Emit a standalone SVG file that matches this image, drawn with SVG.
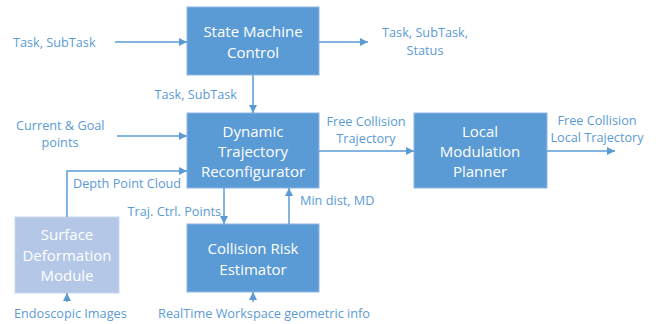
<svg xmlns="http://www.w3.org/2000/svg" width="656" height="324" viewBox="0 0 656 324">
<defs>
<marker id="ah" viewBox="0 0 10 10" refX="10" refY="5" markerWidth="8" markerHeight="8" markerUnits="userSpaceOnUse" orient="auto">
<path d="M0,0 L10,5 L0,10 z" fill="#5B9BD5"/>
</marker>
<style>
.box{fill:#5B9BD5;stroke:#8DB6E3;stroke-width:1}
.lbox{fill:#B4C7E7;stroke:#C9D7EE;stroke-width:1}
.bt{font-family:"Open Sans","Noto Sans",sans-serif;font-size:15px;fill:#FFFFFF;text-anchor:middle}
.lb{font-family:"Open Sans","Noto Sans",sans-serif;font-size:12.7px;fill:#5B9BD5}
.c{fill:none;stroke:#5B9BD5;stroke-width:1.5;marker-end:url(#ah)}
</style>
</defs>
<rect width="656" height="324" fill="#FFFFFF"/>
<g id="smc">
<rect class="box" x="187" y="7" width="132" height="68"/>
<text class="bt" x="253" y="37">State Machine</text>
<text class="bt" x="253" y="58">Control</text>
</g>
<g id="dtr">
<rect class="box" x="187" y="113" width="132" height="75"/>
<text class="bt" x="253" y="137">Dynamic</text>
<text class="bt" x="253" y="157">Trajectory</text>
<text class="bt" x="253" y="177">Reconfigurator</text>
</g>
<g id="lmp">
<rect class="box" x="414" y="113" width="133" height="75"/>
<text class="bt" x="480" y="137">Local</text>
<text class="bt" x="480" y="157">Modulation</text>
<text class="bt" x="480" y="177">Planner</text>
</g>
<g id="cre">
<rect class="box" x="187" y="224" width="132" height="68"/>
<text class="bt" x="253" y="254">Collision Risk</text>
<text class="bt" x="253" y="275">Estimator</text>
</g>
<g id="sdm">
<rect class="lbox" x="15" y="217" width="104" height="76"/>
<text class="bt" x="67" y="240">Surface</text>
<text class="bt" x="67" y="261">Deformation</text>
<text class="bt" x="67" y="281">Module</text>
</g>
<g id="connectors">
<path class="c" d="M115,42 H187"/>
<path class="c" d="M319,42 H368"/>
<path class="c" d="M253,75 V113"/>
<path class="c" d="M117,136 H187"/>
<path class="c" d="M67,217 V171 H187"/>
<path class="c" d="M224,188 V224"/>
<path class="c" d="M289,224 V188"/>
<path class="c" d="M319,151 H414"/>
<path class="c" d="M547,151 H615"/>
<path class="c" d="M67,302 V293"/>
<path class="c" d="M253,302 V292"/>
</g>
<g id="labels">
<text class="lb" x="13" y="47">Task, SubTask</text>
<text class="lb" x="425" y="37" text-anchor="middle">Task, SubTask,</text>
<text class="lb" x="425" y="55" text-anchor="middle">Status</text>
<text class="lb" x="237" y="99" text-anchor="end">Task, SubTask</text>
<text class="lb" x="16" y="130">Current &amp; Goal</text>
<text class="lb" x="60" y="147" text-anchor="middle">points</text>
<text class="lb" x="73" y="188">Depth Point Cloud</text>
<text class="lb" x="221" y="216" text-anchor="end">Traj. Ctrl. Points</text>
<text class="lb" x="300" y="205">Min dist, MD</text>
<text class="lb" x="366" y="126" text-anchor="middle">Free Collision</text>
<text class="lb" x="366" y="143" text-anchor="middle">Trajectory</text>
<text class="lb" x="597" y="125" text-anchor="middle">Free Collision</text>
<text class="lb" x="597" y="142" text-anchor="middle">Local Trajectory</text>
<text class="lb" x="14" y="318">Endoscopic Images</text>
<text class="lb" x="264" y="318" text-anchor="middle">RealTime Workspace geometric info</text>
</g>
</svg>
